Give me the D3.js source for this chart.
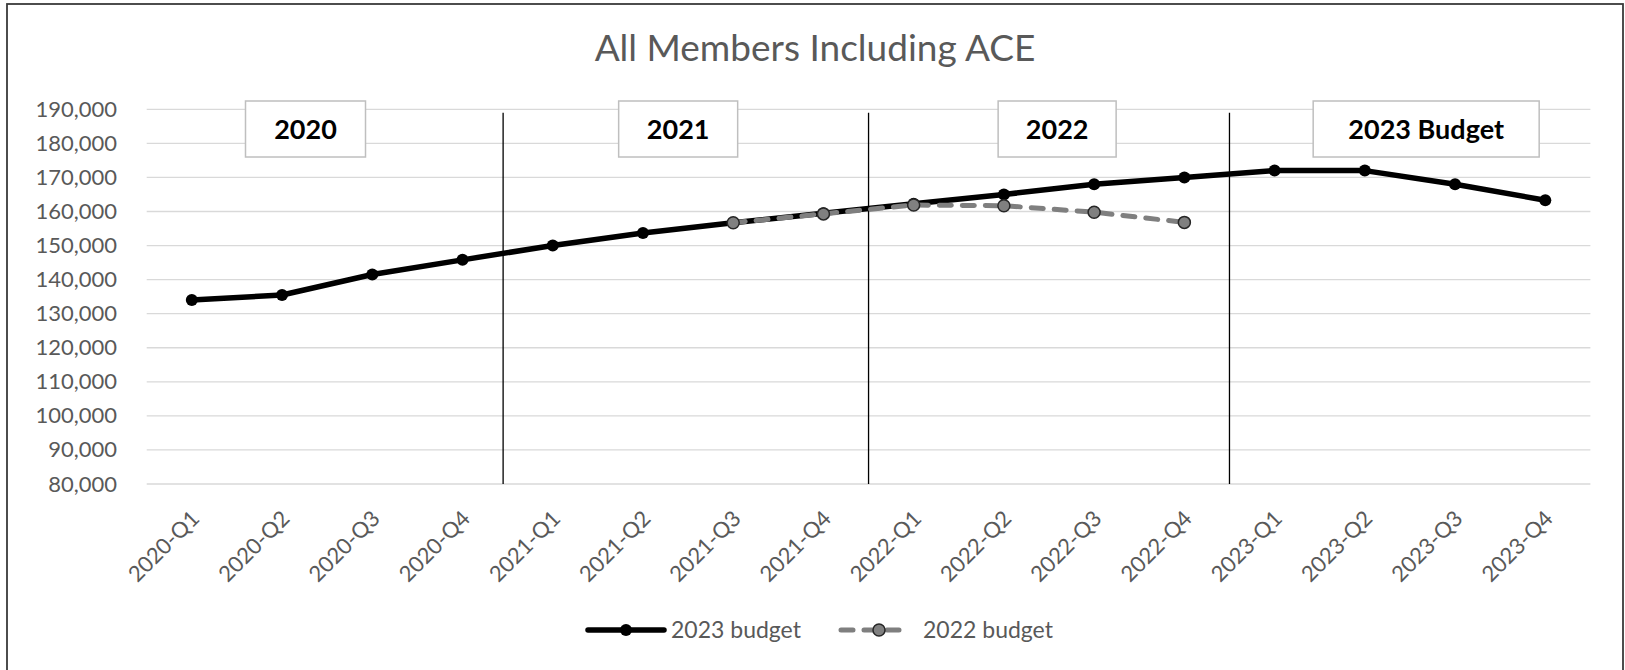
<!DOCTYPE html>
<html>
<head>
<meta charset="utf-8">
<script src="https://cdn.jsdelivr.net/npm/d3@7"></script>
<style>
  html, body { margin: 0; padding: 0; background: #ffffff; }
  svg { display: block; }
  text { font-family: Lato, "Open Sans", sans-serif; }
</style>
</head>
<body>
<svg id="chart" width="1625" height="670"></svg>
<script>
// ---- data ----
const categories = ["2020-Q1","2020-Q2","2020-Q3","2020-Q4",
                    "2021-Q1","2021-Q2","2021-Q3","2021-Q4",
                    "2022-Q1","2022-Q2","2022-Q3","2022-Q4",
                    "2023-Q1","2023-Q2","2023-Q3","2023-Q4"];
const budget2023 = [134000,135500,141500,145800,150000,153700,156700,159500,
                    162300,165000,168000,170000,172000,172000,168000,163300];
const budget2022 = [null,null,null,null,null,null,156700,159300,
                    161900,161700,159800,156800,null,null,null,null];
const yTicks = [80000,90000,100000,110000,120000,130000,140000,150000,160000,170000,180000,190000];
const seriesNames = ["2023 budget","2022 budget"];
const periodLabels = ["2020","2021","2022","2023 Budget"];
const periodCenters = [1.76, 5.89, 10.09, 14.18];   // in category-index units
const periodWidths = [120, 119, 118, 226];
const separators = [3.95, 8, 12];                  // in category-index units
const separatorTop = 189000;
const titleText = "All Members Including ACE";

// ---- layout ----
const svg = d3.select("#chart");
const W = 1625, H = 670;
const plotL = 146.7, plotR = 1590.4, plotT = 109.3, plotB = 484;

svg.append("rect").attr("x",0).attr("y",0).attr("width",W).attr("height",H).attr("fill","#fff");
svg.append("rect").attr("x",7).attr("y",4).attr("width",1616).attr("height",H+10)
   .attr("fill","none").attr("stroke","#3a3a3a").attr("stroke-width",1.8);

const x = d3.scaleBand().domain(categories).range([plotL, plotR]).padding(0);
const xi = d3.scaleLinear().domain([0, categories.length]).range([plotL, plotR]);
const y = d3.scaleLinear().domain([80000, 190000]).range([plotB, plotT]);
const cx = c => x(c) + x.bandwidth()/2;

// title
svg.append("text").attr("x", 815).attr("y", 61).attr("text-anchor","middle")
   .attr("font-size", 37).attr("fill","#595959").text(titleText);

// gridlines
svg.append("g").selectAll("line").data(yTicks).join("line")
   .attr("x1", plotL).attr("x2", plotR)
   .attr("y1", d => y(d)).attr("y2", d => y(d))
   .attr("stroke", "#d9d9d9").attr("stroke-width", 1.3);

// y axis labels
const yAxis = d3.axisLeft(y).tickValues(yTicks).tickFormat(d3.format(",")).tickSize(0).tickPadding(0);
const yg = svg.append("g").attr("transform", `translate(117,0)`).call(yAxis);
yg.select(".domain").remove();
yg.selectAll("text").attr("font-size", 22).attr("fill", "#595959")
  .attr("font-family", "Lato, 'Open Sans', sans-serif");

// x axis labels
const xAxis = d3.axisBottom(x).tickSize(0).tickPadding(0);
const xg = svg.append("g").attr("transform", `translate(0,${plotB})`).call(xAxis);
xg.select(".domain").remove();
xg.selectAll(".tick text")
  .attr("font-size", 22).attr("fill", "#595959")
  .attr("font-family", "Lato, 'Open Sans', sans-serif")
  .attr("text-anchor", "end").attr("dy", null).attr("y", null)
  .attr("transform", "translate(9,36) rotate(-45)");

// separators
svg.append("g").selectAll("line").data(separators).join("line")
   .attr("x1", d => xi(d)).attr("x2", d => xi(d))
   .attr("y1", y(separatorTop)).attr("y2", y(80000))
   .attr("stroke", "#000").attr("stroke-width", 1.3);

// period boxes
const boxH = 56, boxTop = 101;
const pg = svg.append("g").selectAll("g").data(periodLabels).join("g");
pg.append("rect")
  .attr("x", (d,i) => xi(periodCenters[i]) - periodWidths[i]/2)
  .attr("y", boxTop).attr("width", (d,i) => periodWidths[i]).attr("height", boxH)
  .attr("fill", "#fff").attr("stroke", "#bfbfbf").attr("stroke-width", 1.5);
pg.append("text")
  .attr("x", (d,i) => xi(periodCenters[i])).attr("y", boxTop + boxH/2 + 10)
  .attr("text-anchor","middle").attr("font-size", 27).attr("font-weight", "bold")
  .attr("fill", "#000").text(d => d);

// lines
const line = d3.line().defined(d => d.v != null).x(d => cx(d.c)).y(d => y(d.v));
const s23 = categories.map((c,i) => ({c, v: budget2023[i]}));
const s22 = categories.map((c,i) => ({c, v: budget2022[i]}));

svg.append("path").datum(s23).attr("d", line).attr("fill","none")
   .attr("stroke","#000").attr("stroke-width",5.5).attr("stroke-linejoin","round").attr("stroke-linecap","round");
svg.append("g").selectAll("circle").data(s23).join("circle")
   .attr("cx", d => cx(d.c)).attr("cy", d => y(d.v)).attr("r", 6).attr("fill","#000");

svg.append("path").datum(s22).attr("d", line).attr("fill","none")
   .attr("stroke","#7f7f7f").attr("stroke-width",5).attr("stroke-dasharray","12,11")
   .attr("stroke-linecap","round");
svg.append("g").selectAll("circle").data(s22.filter(d => d.v != null)).join("circle")
   .attr("cx", d => cx(d.c)).attr("cy", d => y(d.v)).attr("r", 6)
   .attr("fill","#808080").attr("stroke","#262626").attr("stroke-width",1.5);

// legend
const lg = svg.append("g");
const legY = 630;
// 2023 budget
lg.append("line").attr("x1",588).attr("x2",664).attr("y1",legY).attr("y2",legY)
  .attr("stroke","#000").attr("stroke-width",5.5).attr("stroke-linecap","round");
lg.append("circle").attr("cx",626).attr("cy",legY).attr("r",6).attr("fill","#000");
lg.append("text").attr("x",671).attr("y",legY+8).attr("font-size",23).attr("fill","#595959").text(seriesNames[0]);
// 2022 budget
lg.append("line").attr("x1",841).attr("x2",910).attr("y1",legY).attr("y2",legY)
  .attr("stroke","#7f7f7f").attr("stroke-width",5).attr("stroke-dasharray","12,11").attr("stroke-linecap","round");
lg.append("circle").attr("cx",879).attr("cy",legY).attr("r",6)
  .attr("fill","#808080").attr("stroke","#262626").attr("stroke-width",1.5);
lg.append("text").attr("x",923).attr("y",legY+8).attr("font-size",23).attr("fill","#595959").text(seriesNames[1]);
</script>
</body>
</html>
